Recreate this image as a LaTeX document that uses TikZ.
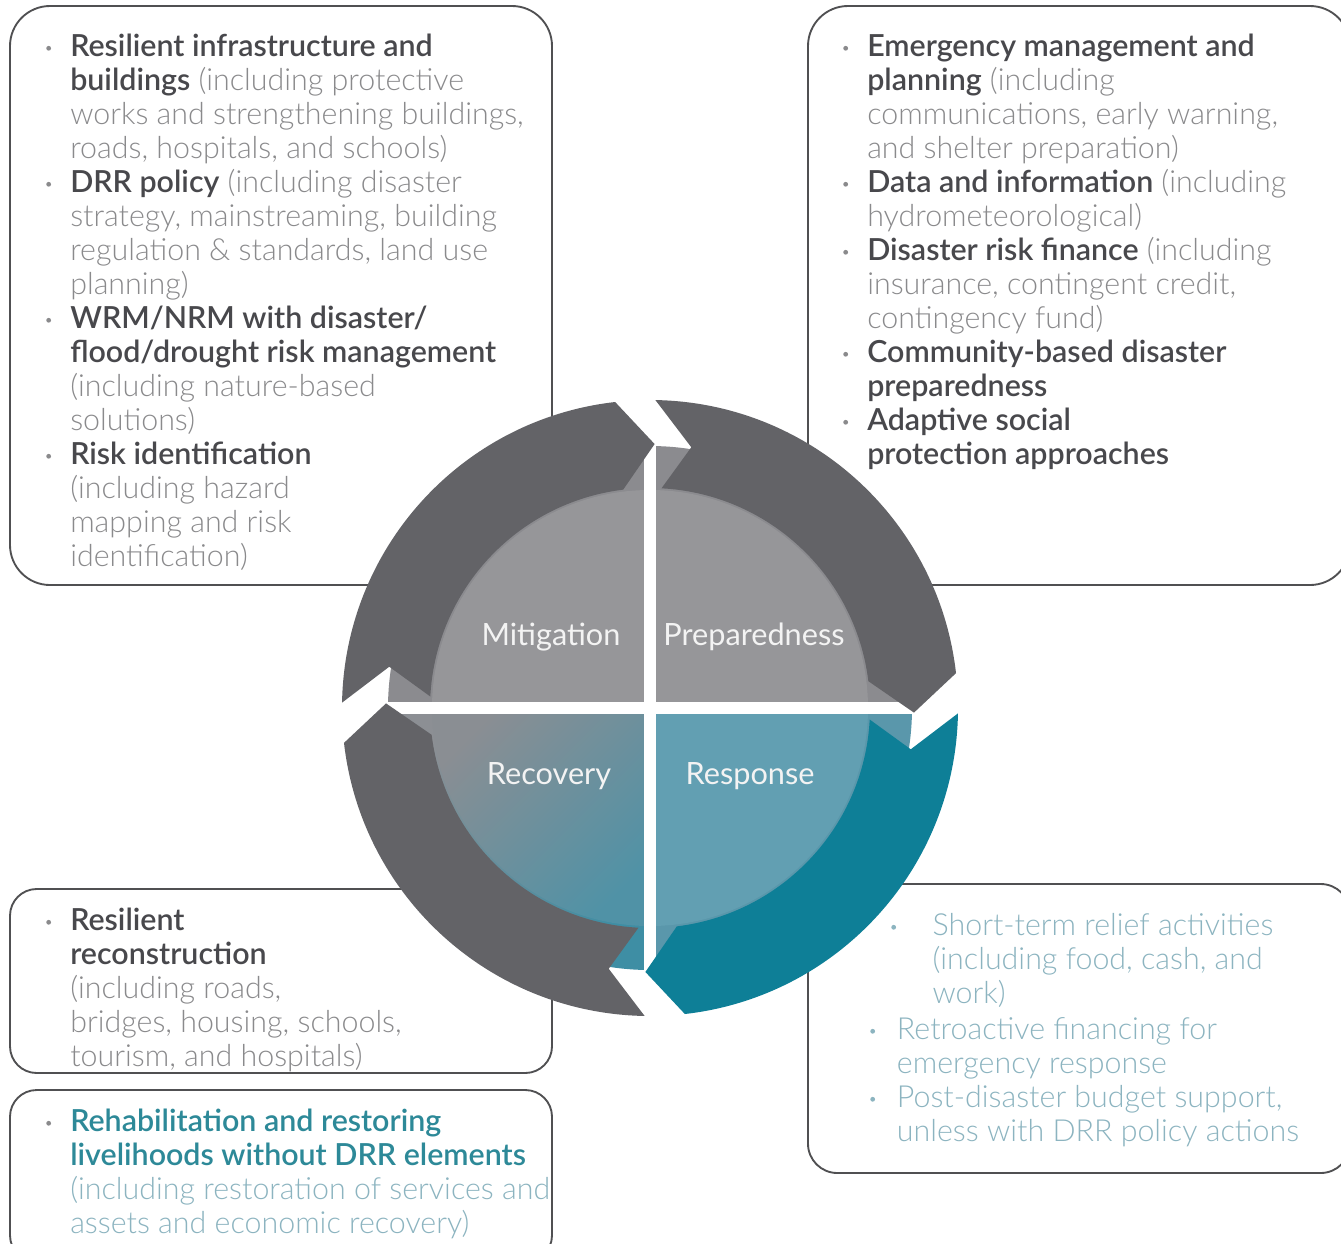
\documentclass[tikz,border=0pt]{standalone}
\usepackage{fontspec}
\IfFontExistsTF{Lato Light}{%
  \IfFontExistsTF{Lato Semibold}%
    {\setmainfont{Lato Light}[BoldFont={Lato Semibold}]}%
    {\setmainfont{Lato Light}[BoldFont={Lato Bold}]}%
}{\setmainfont{Lato}}
\newfontfamily\labelfont{Lato}
\definecolor{arrowgrey}{RGB}{99,99,103}
\definecolor{arrowteal}{RGB}{14,127,151}
\definecolor{qgrey}{RGB}{139,139,143}
\definecolor{qgreyin}{RGB}{150,150,153}
\definecolor{recA}{RGB}{140,143,148}
\definecolor{recB}{RGB}{62,142,164}
\definecolor{recAin}{RGB}{138,142,147}
\definecolor{recBin}{RGB}{80,146,166}
\definecolor{resp}{RGB}{90,151,171}
\definecolor{respin}{RGB}{98,159,178}
\definecolor{boldc}{RGB}{72,72,76}
\definecolor{lightc}{RGB}{138,138,140}
\definecolor{tealbold}{RGB}{45,137,152}
\definecolor{teallight}{RGB}{140,180,192}
\definecolor{framec}{RGB}{80,80,82}
\definecolor{labelc}{RGB}{243,243,243}
\newcommand\bfpart[1]{{\color{boldc}\bfseries #1}}
\newcommand\ltpart[1]{{\color{lightc}#1}}
\newcommand\tbfpart[1]{{\color{tealbold}\bfseries #1}}
\newcommand\tltpart[1]{{\color{teallight}#1}}
\newcommand\bulletmark[2]{\makebox[#2][l]{\tikz[baseline=-5.8pt]\fill[#1] (1.8pt,0) circle (1.8pt);}}
\begin{document}
\begin{tikzpicture}[x=0.75pt,y=0.75pt,
  frame/.style={draw=framec, line width=1.4pt, fill=white},
  boxtext/.style={anchor=base west, inner sep=0pt, font=\fontsize{22.8}{25.5}\selectfont},
  lbl/.style={anchor=base, inner sep=0pt, text=labelc, font=\labelfont\fontsize{23}{26}\selectfont}]
\useasboundingbox (0,0) rectangle (1341,-1243);
\clip (0,0) rectangle (1341,-1243);
% boxes
\draw[frame, rounded corners=30pt] (10,-6) rectangle (552,-585);
\draw[frame, rounded corners=30pt] (808,-6) rectangle (1350,-585);
\draw[frame, rounded corners=20pt] (10,-889) rectangle (552,-1073);
\draw[frame, rounded corners=20pt] (10,-1090) rectangle (552,-1262);
\draw[frame, rounded corners=22pt] (808,-884) rectangle (1350,-1173);
% texts of boxes
\node[boxtext] (tl) at (46,-56) {\begin{tabular}[t]{@{}l@{}l@{}}
\bulletmark{lightc}{18pt} & \bfpart{Resilient infrastructure and}\\
 & \bfpart{buildings} \ltpart{(including protective}\\
 & \ltpart{works and strengthening buildings,}\\
 & \ltpart{roads, hospitals, and schools)}\\
\bulletmark{lightc}{18pt} & \bfpart{DRR policy} \ltpart{(including disaster}\\
 & \ltpart{strategy, mainstreaming, building}\\
 & \ltpart{regulation \& standards, land use}\\
 & \ltpart{planning)}\\
\bulletmark{lightc}{18pt} & \bfpart{WRM/NRM with disaster/}\\
 & \bfpart{flood/drought risk management}\\
 & \ltpart{(including nature-based}\\
 & \ltpart{solutions)}\\
\bulletmark{lightc}{18pt} & \bfpart{Risk identification}\\
 & \ltpart{(including hazard}\\
 & \ltpart{mapping and risk}\\
 & \ltpart{identification)}
\end{tabular}};
\node[boxtext] (tr) at (843,-56) {\begin{tabular}[t]{@{}l@{}l@{}}
\bulletmark{lightc}{18pt} & \bfpart{Emergency management and}\\
 & \bfpart{planning} \ltpart{(including}\\
 & \ltpart{communications, early warning,}\\
 & \ltpart{and shelter preparation)}\\
\bulletmark{lightc}{18pt} & \bfpart{Data and information} \ltpart{(including}\\
 & \ltpart{hydrometeorological)}\\
\bulletmark{lightc}{18pt} & \bfpart{Disaster risk finance} \ltpart{(including}\\
 & \ltpart{insurance, contingent credit,}\\
 & \ltpart{contingency fund)}\\
\bulletmark{lightc}{18pt} & \bfpart{Community-based disaster}\\
 & \bfpart{preparedness}\\
\bulletmark{lightc}{18pt} & \bfpart{Adaptive social}\\
 & \bfpart{protection approaches}
\end{tabular}};
\node[boxtext] (bl1) at (46,-930) {\begin{tabular}[t]{@{}l@{}l@{}}
\bulletmark{lightc}{18pt} & \bfpart{Resilient}\\
 & \bfpart{reconstruction}\\
 & \ltpart{(including roads,}\\
 & \ltpart{bridges, housing, schools,}\\
 & \ltpart{tourism, and hospitals)}
\end{tabular}};
\node[boxtext] (bl2) at (46,-1131) {\begin{tabular}[t]{@{}l@{}l@{}}
\bulletmark{lightc}{18pt} & \tbfpart{Rehabilitation and restoring}\\
 & \tbfpart{livelihoods without DRR elements}\\
 & \tltpart{(including restoration of services and}\\
 & \tltpart{assets and economic recovery)}
\end{tabular}};
\node[boxtext] (br1) at (891,-935) {\begin{tabular}[t]{@{}l@{}l@{}}
\bulletmark{teallight}{31pt} & \tltpart{Short-term relief activities}\\
 & \tltpart{(including food, cash, and}\\
 & \tltpart{work)}
\end{tabular}};
\node[boxtext] (br2) at (870,-1039) {\begin{tabular}[t]{@{}l@{}l@{}}
\bulletmark{teallight}{20pt} & \tltpart{Retroactive financing for}\\
 & \tltpart{emergency response}\\
\bulletmark{teallight}{20pt} & \tltpart{Post-disaster budget support,}\\
 & \tltpart{unless with DRR policy actions}
\end{tabular}};
% cycle
\begin{scope}[shift={(650,-708)}]
  % quadrants (outer ring)
  \fill[qgrey] (0,0) -- (90:196.5pt) arc[start angle=90, end angle=180, radius=196.5pt] -- cycle;
  \fill[qgrey] (0,0) -- (0:196.5pt) arc[start angle=0, end angle=90, radius=196.5pt] -- cycle;
  \fill[resp] (0,0) -- (-90:196.5pt) arc[start angle=-90, end angle=0, radius=196.5pt] -- cycle;
  \shade[top color=recA, bottom color=recB, shading angle=45] (0,0) -- (180:196.5pt) arc[start angle=180, end angle=270, radius=196.5pt] -- cycle;
  % quadrants (inner disc)
  \fill[qgreyin] (0,0) -- (90:163.5pt) arc[start angle=90, end angle=180, radius=163.5pt] -- cycle;
  \fill[qgreyin] (0,0) -- (0:163.5pt) arc[start angle=0, end angle=90, radius=163.5pt] -- cycle;
  \fill[respin] (0,0) -- (-90:163.5pt) arc[start angle=-90, end angle=0, radius=163.5pt] -- cycle;
  \shade[top color=recAin, bottom color=recBin, shading angle=45] (0,0) -- (180:163.5pt) arc[start angle=180, end angle=270, radius=163.5pt] -- cycle;
  % white cross
  \draw[white, line width=9pt] (0,205pt) -- (0,-205pt);
  \draw[white, line width=9pt] (-205pt,0) -- (205pt,0);
  % arrows
  \foreach \T/\H/\c in {171/89/arrowgrey, 81/-1/arrowgrey, -9/-91/arrowteal, -99/-181/arrowgrey}{
    \fill[\c] (\T+8:231pt) arc[start angle=\T+8, end angle=\H+7.5, radius=231pt]
      -- (\H:198pt) -- (\H+8:165pt)
      arc[start angle=\H+8, end angle=\T+6, radius=165pt]
      -- (\T:198pt) -- cycle;
  }
\end{scope}
\node[lbl] (lmit) at (551,-645) {Mitigation};
\node[lbl] (lprep) at (754,-645) {Preparedness};
\node[lbl] (lrec) at (549,-784) {Recovery};
\node[lbl] (lresp) at (750,-784) {Response};
\end{tikzpicture}
\end{document}
